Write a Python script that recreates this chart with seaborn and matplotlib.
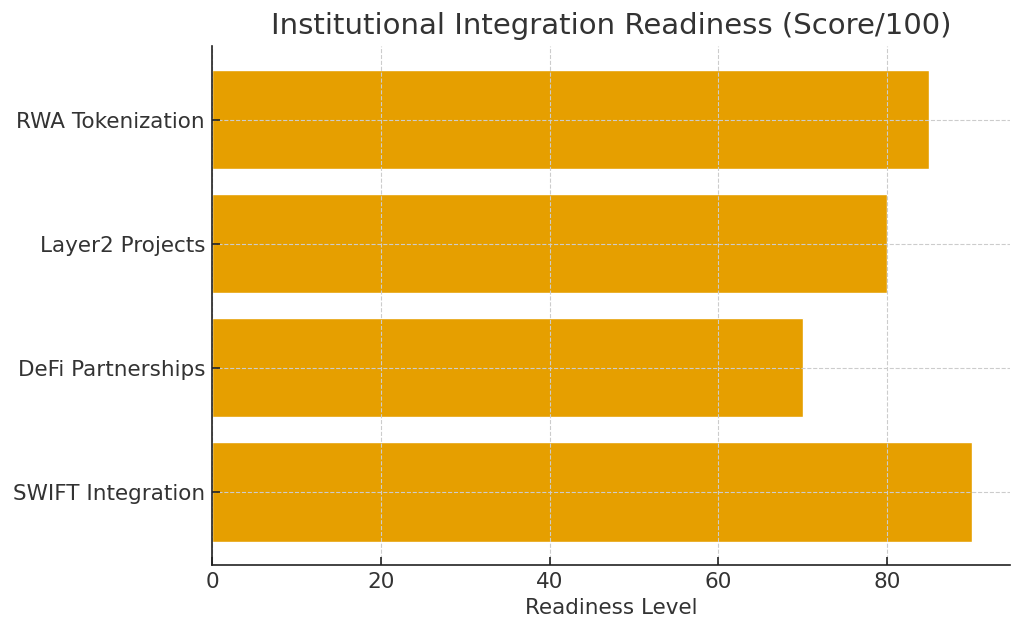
import matplotlib
matplotlib.use('Agg')
import matplotlib.pyplot as plt
import seaborn as sns
import pandas as pd

categories = ['RWA Tokenization', 'Layer2 Projects', 'DeFi Partnerships', 'SWIFT Integration']
scores = [85, 80, 70, 90]

sns.set_theme(style='white')
plt.rcParams['font.family'] = ['DejaVu Sans']
text_color = '#333333'

df = pd.DataFrame({'Category': categories, 'Score': scores})

fig, ax = plt.subplots(figsize=(10.24, 6.35), dpi=100)
sns.barplot(data=df, x='Score', y='Category', orient='h', color='#E69F00',
            saturation=1, width=0.8, ax=ax, zorder=1)

ax.set_axisbelow(False)
ax.grid(True, linestyle='--', color='#cccccc', linewidth=0.8)
ax.xaxis.set_zorder(4)
ax.yaxis.set_zorder(4)
ax.set_ylim(3.59, -0.59)

ax.set_title('Institutional Integration Readiness (Score/100)', fontsize=21,
             color=text_color, pad=9)
ax.set_xlabel('Readiness Level', fontsize=15.5, color=text_color)
ax.set_ylabel('')
ax.tick_params(axis='both', labelsize=15.5, colors='#222222', labelcolor=text_color,
               length=6, width=1.2, direction='in', pad=5, bottom=True, left=True)
ax.set_xticks([0, 20, 40, 60, 80])

sns.despine(ax=ax)
for s in ['left', 'bottom']:
    ax.spines[s].set_color('#222222')
    ax.spines[s].set_linewidth(1.2)
    ax.spines[s].set_zorder(5)

plt.subplots_adjust(left=0.207, right=0.986, top=0.927, bottom=0.11)
plt.savefig('out.png', dpi=100)
